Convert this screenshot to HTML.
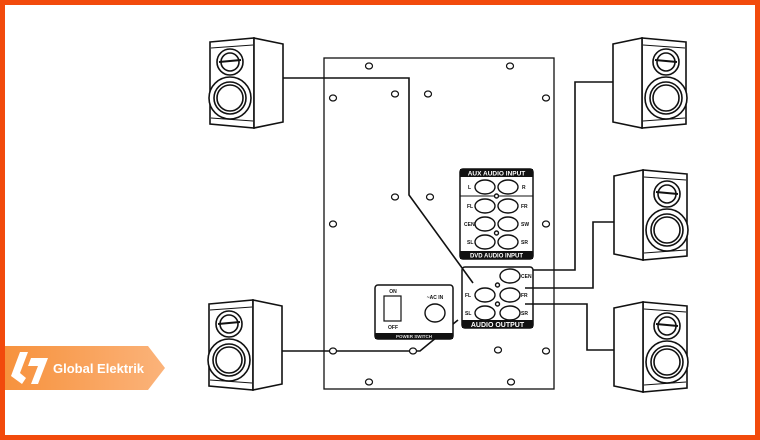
<!DOCTYPE html>
<html><head><meta charset="utf-8"><style>
body{margin:0;width:760px;height:440px;overflow:hidden;background:#fff}
svg{display:block}
text{font-family:"Liberation Sans",sans-serif;font-weight:bold}
</style></head><body>
<svg width="760" height="440" viewBox="0 0 760 440">
<defs>
<g id="spk" fill="#fff" stroke="#111" stroke-width="1.6">
<path d="M2,4 L46,0 L46,90 L2,86 Z"/>
<path d="M46,0 L75,6 L75,84 L46,90 Z"/>
<line x1="3" y1="10" x2="45" y2="7" stroke-width="1"/>
<line x1="3" y1="80" x2="45" y2="83" stroke-width="1"/>
<circle cx="22" cy="24" r="13"/><circle cx="22" cy="24" r="9"/>
<line x1="11" y1="24" x2="33" y2="22" stroke-width="2"/>
<circle cx="22" cy="60" r="21"/><circle cx="22" cy="60" r="16"/><circle cx="22" cy="60" r="13"/>
</g>
</defs>
<rect x="2.5" y="2.5" width="755" height="435" fill="none" stroke="#f24a0c" stroke-width="5"/>
<g fill="none" stroke="#111" stroke-width="1.3">
<rect x="324" y="58" width="230" height="331"/>
</g>
<g fill="#fff" stroke="#111" stroke-width="1.2">
<ellipse cx="369" cy="66" rx="3.5" ry="3"/><ellipse cx="510" cy="66" rx="3.5" ry="3"/>
<ellipse cx="333" cy="98" rx="3.5" ry="3"/><ellipse cx="395" cy="94" rx="3.5" ry="3"/>
<ellipse cx="428" cy="94" rx="3.5" ry="3"/><ellipse cx="546" cy="98" rx="3.5" ry="3"/>
<ellipse cx="395" cy="197" rx="3.5" ry="3"/><ellipse cx="430" cy="197" rx="3.5" ry="3"/>
<ellipse cx="333" cy="224" rx="3.5" ry="3"/><ellipse cx="546" cy="224" rx="3.5" ry="3"/>
<ellipse cx="498" cy="350" rx="3.5" ry="3"/><ellipse cx="546" cy="351" rx="3.5" ry="3"/>
<ellipse cx="369" cy="382" rx="3.5" ry="3"/><ellipse cx="511" cy="382" rx="3.5" ry="3"/>
</g>
<!-- wires -->
<g fill="none" stroke="#111" stroke-width="1.6">
<polyline points="283,78 409,78 409,195 473,283"/>
<polyline points="282,351 420,351 437,337 458,320"/>
<polyline points="614,82 575,82 575,270 533,270"/>
<polyline points="614,222 593,222 593,288 525,288"/>
<polyline points="614,350 587,350 587,304 525,304"/>
</g>
<g fill="#fff" stroke="#111" stroke-width="1.2">
<ellipse cx="333" cy="351" rx="3.5" ry="3"/><ellipse cx="413" cy="351" rx="3.5" ry="3"/>
</g>
<!-- aux box -->
<rect x="460" y="169" width="73" height="90" rx="3" fill="#fff" stroke="#111" stroke-width="1.5"/>
<rect x="460" y="169" width="73" height="8" fill="#111"/>
<text x="496.5" y="175.5" font-size="6.5" fill="#fff" text-anchor="middle">AUX AUDIO INPUT</text>
<line x1="460" y1="196" x2="533" y2="196" stroke="#111"/>
<rect x="460" y="251" width="73" height="8" fill="#111"/>
<text x="496.5" y="257.5" font-size="6" fill="#fff" text-anchor="middle">DVD AUDIO INPUT</text>
<g fill="#fff" stroke="#111" stroke-width="1.4">
<ellipse cx="485" cy="187" rx="10" ry="7"/><ellipse cx="508" cy="187" rx="10" ry="7"/>
<ellipse cx="485" cy="206" rx="10" ry="7"/><ellipse cx="508" cy="206" rx="10" ry="7"/>
<ellipse cx="485" cy="224" rx="10" ry="7"/><ellipse cx="508" cy="224" rx="10" ry="7"/>
<ellipse cx="485" cy="242" rx="10" ry="7"/><ellipse cx="508" cy="242" rx="10" ry="7"/>
<circle cx="496.5" cy="196" r="2"/><circle cx="496.5" cy="233" r="2"/>
<ellipse cx="510" cy="276" rx="10" ry="7"/>
<ellipse cx="485" cy="295" rx="10" ry="7"/><ellipse cx="510" cy="295" rx="10" ry="7"/>
<ellipse cx="485" cy="313" rx="10" ry="7"/><ellipse cx="510" cy="313" rx="10" ry="7"/>
<circle cx="497.5" cy="285" r="2"/><circle cx="497.5" cy="304" r="2"/>
</g>
<g font-size="5" fill="#111">
<text x="468" y="189">L</text><text x="522" y="189">R</text>
<text x="467" y="208">FL</text><text x="521" y="208">FR</text>
<text x="464" y="226">CEN</text><text x="521" y="226">SW</text>
<text x="467" y="244">SL</text><text x="521" y="244">SR</text>
</g>
<!-- output box -->
<rect x="462" y="267" width="71" height="61" rx="3" fill="none" stroke="#111" stroke-width="1.5"/>
<rect x="462" y="320" width="71" height="8" fill="#111"/>
<text x="497.5" y="327" font-size="7" fill="#fff" text-anchor="middle">AUDIO OUTPUT</text>
<g font-size="5" fill="#111">
<text x="521" y="278">CEN</text><text x="465" y="297">FL</text><text x="521" y="297">FR</text>
<text x="465" y="315">SL</text><text x="521" y="315">SR</text>
</g>
<!-- power box -->
<rect x="375" y="285" width="78" height="54" rx="3" fill="#fff" stroke="#111" stroke-width="1.5"/>
<rect x="375" y="333" width="78" height="6" fill="#111"/>
<text x="414" y="338" font-size="4.5" fill="#ddd" text-anchor="middle">POWER SWITCH</text>
<text x="393" y="293" font-size="5" fill="#111" text-anchor="middle">ON</text>
<text x="393" y="329" font-size="5" fill="#111" text-anchor="middle">OFF</text>
<rect x="384" y="296" width="17" height="25" fill="#fff" stroke="#111" stroke-width="1.2"/>
<text x="435" y="299" font-size="5" fill="#111" text-anchor="middle">~AC IN</text>
<ellipse cx="435" cy="313" rx="10" ry="9" fill="#fff" stroke="#111" stroke-width="1.4"/>
<!-- speakers -->
<use href="#spk" x="208" y="38"/>
<use href="#spk" x="207" y="300"/>
<use href="#spk" transform="translate(688,38) scale(-1,1)"/>
<use href="#spk" transform="translate(689,170) scale(-1,1)"/>
<use href="#spk" transform="translate(689,302) scale(-1,1)"/>
<!-- logo -->
<defs><linearGradient id="lg" x1="0" x2="1"><stop offset="0" stop-color="#f7923d"/><stop offset="1" stop-color="#fbb37a"/></linearGradient></defs>
<path d="M5,346 L148,346 L165,368 L148,390 L5,390 Z" fill="url(#lg)"/>
<g fill="#fff">
<path d="M20,352 L28,352 L20,373 L26,378 L22,384 L11,376 Z"/>
<path d="M31,358 L48,358 L38,384 L31,384 L38,366 L28,366 Z"/>
</g>
<text x="53" y="373" font-size="13" fill="#fff">Global Elektrik</text>
</svg>
</body></html>
